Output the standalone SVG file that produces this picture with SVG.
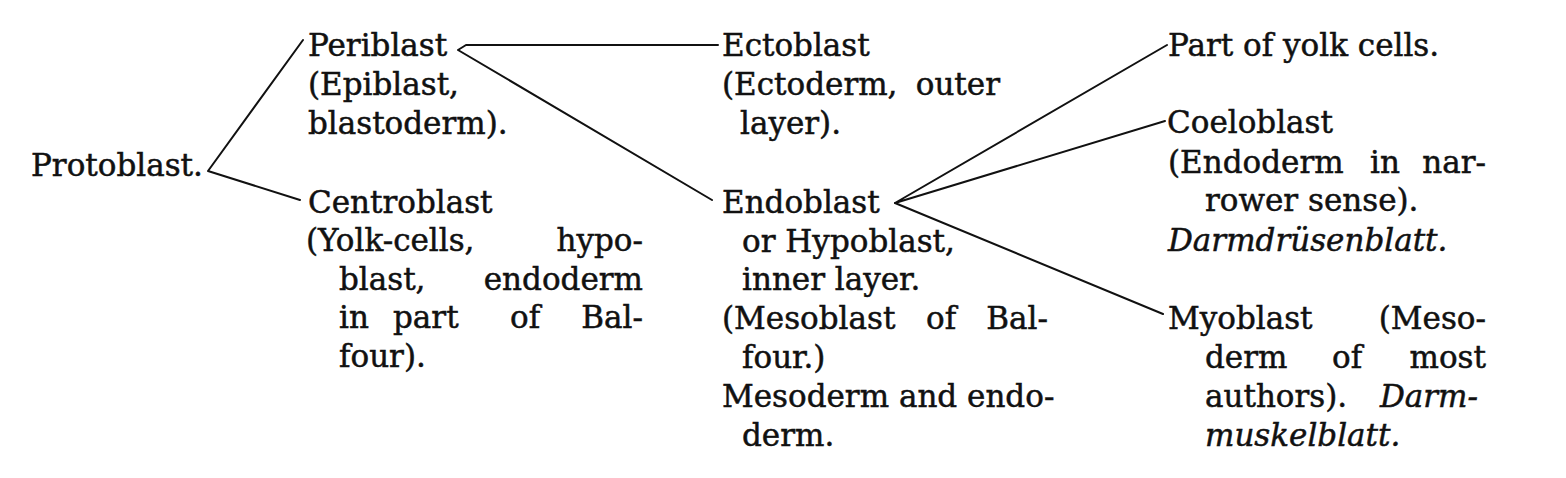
<svg xmlns="http://www.w3.org/2000/svg" width="1566" height="478" viewBox="0 0 1566 478">
<style>
.t{font-family:"DejaVu Serif","Liberation Serif",serif;font-size:31px;fill:#111;stroke:#111;stroke-width:0.5}
.i{font-style:italic}
.e{text-anchor:end}
.c{stroke:#111;stroke-width:2;fill:none;stroke-linecap:round;stroke-linejoin:round}
</style>
<rect width="1566" height="478" fill="#fff"/>
<g id="connectors">
<path class="c" d="M303,40 L208,171 L300,200"/>
<path class="c" d="M718,45 L466,45 L458,50 L712,200"/>
<path class="c" d="M1167,45 L895,203 L1165,121"/>
<path class="c" d="M895,203 L1163,314"/>
</g>
<g id="protoblast"><text class="t" x="31" y="176">Protoblast.</text></g>
<g id="periblast">
<text class="t" x="308" y="56">Periblast</text>
<text class="t" x="308" y="95">(Epiblast,</text>
<text class="t" x="308" y="134">blastoderm).</text>
</g>
<g id="centroblast">
<text class="t" x="308" y="213">Centroblast</text>
<text class="t" x="306" y="251">(Yolk-cells,</text><text class="t e" x="643" y="251">hypo-</text>
<text class="t" x="339" y="290">blast,</text><text class="t e" x="643" y="290">endoderm</text>
<text class="t" x="339" y="328">in</text><text class="t" x="393" y="328">part</text><text class="t" x="510" y="328">of</text><text class="t e" x="643" y="328">Bal-</text>
<text class="t" x="339" y="367">four).</text>
</g>
<g id="ectoblast">
<text class="t" x="722" y="56">Ectoblast</text>
<text class="t" x="722" y="95">(Ectoderm,</text><text class="t e" x="1000" y="95">outer</text>
<text class="t" x="740" y="134">layer).</text>
</g>
<g id="endoblast">
<text class="t" x="722" y="213">Endoblast</text>
<text class="t" x="742" y="252">or Hypoblast,</text>
<text class="t" x="742" y="290">inner layer.</text>
<text class="t" x="722" y="329">(Mesoblast</text><text class="t" x="926" y="329">of</text><text class="t e" x="1048" y="329">Bal-</text>
<text class="t" x="742" y="368">four.)</text>
<text class="t" x="722" y="407">Mesoderm and endo-</text>
<text class="t" x="742" y="446">derm.</text>
</g>
<g id="part-of-yolk-cells"><text class="t" x="1168" y="56">Part of yolk cells.</text></g>
<g id="coeloblast">
<text class="t" x="1167" y="133">Coeloblast</text>
<text class="t" x="1168" y="173">(Endoderm</text><text class="t" x="1370" y="173">in</text><text class="t e" x="1486" y="173">nar-</text>
<text class="t" x="1205" y="211">rower sense).</text>
<text class="t i" x="1168" y="251">Darmdrüsenblatt.</text>
</g>
<g id="myoblast">
<text class="t" x="1168" y="329">Myoblast</text><text class="t e" x="1486" y="329">(Meso-</text>
<text class="t" x="1205" y="368">derm</text><text class="t" x="1332" y="368">of</text><text class="t e" x="1486" y="368">most</text>
<text class="t" x="1205" y="407">authors).</text><text class="t i e" x="1478" y="407">Darm-</text>
<text class="t i" x="1205" y="446">muskelblatt.</text>
</g>
</svg>
